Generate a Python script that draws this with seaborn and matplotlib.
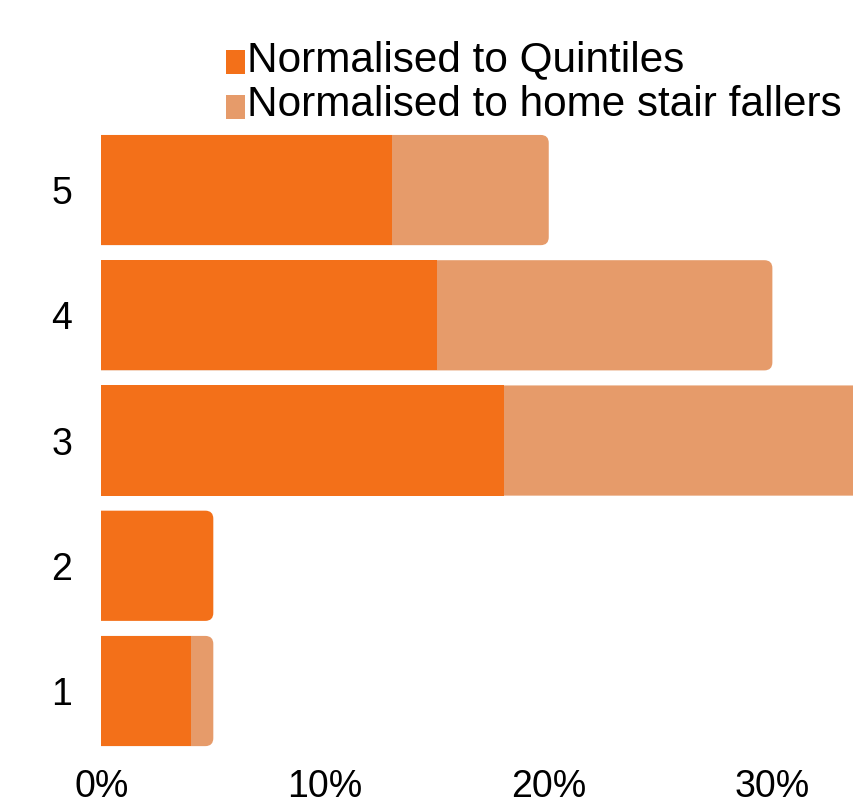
import matplotlib
matplotlib.use("Agg")
import matplotlib.pyplot as plt
from matplotlib.patches import FancyBboxPatch, Patch, Rectangle
from matplotlib.legend_handler import HandlerPatch
import seaborn as sns
import pandas as pd

# Share of stair falls per deprivation quintile (percent)
quintiles = ["5", "4", "3", "2", "1"]
share_quintiles = [13, 15, 18, 5, 4]
share_home_stair = [7, 15, 16, 0, 1]
tick_values = [0, 10, 20, 30]

label_quintiles = "Normalised to Quintiles"
label_home = "Normalised to home stair fallers"
color_quintiles = "#F37019"
color_home = "#E69B6A"

df = pd.DataFrame({
    "quintile": quintiles,
    "quintiles": share_quintiles,
    "home": share_home_stair,
})
df["total"] = df["quintiles"] + df["home"]

sns.set_theme(style="white")
plt.rcParams["font.family"] = ["Liberation Sans", "DejaVu Sans"]

fig = plt.figure(figsize=(8.54, 8.02), dpi=100)
ax = fig.add_axes([101.5 / 854, 0.0603, 1 - 101.5 / 854, 0.7808])

# stacked bars: total (light) behind, quintile share (dark) in front
sns.barplot(data=df, x="total", y="quintile", order=quintiles, orient="h",
            color=color_home, saturation=1, width=0.88, linewidth=0, ax=ax)
n = len(quintiles)
sns.barplot(data=df, x="quintiles", y="quintile", order=quintiles, orient="h",
            color=color_quintiles, saturation=1, width=0.88, linewidth=0, ax=ax)

ax.set_xlim(0, 33.65)
ax.set_ylim(n - 0.5, -0.5)
ax.set_xticks(tick_values)
ax.set_xticklabels([f"{v}%" for v in tick_values])
ax.set_xlabel("")
ax.set_ylabel("")
ax.tick_params(axis="both", length=0, labelsize=27, colors="black")
ax.tick_params(axis="y", pad=21)
ax.tick_params(axis="x", pad=11)
for s in ax.spines.values():
    s.set_visible(False)

# rounded right ends on the outermost segment of each bar
p0 = ax.transData.transform((0, 0))
p1 = ax.transData.transform((1, 1))
px_x = abs(p1[0] - p0[0])
px_y = abs(p1[1] - p0[1])
radius_px = 8
rx = radius_px / px_x
aspect = (radius_px / px_y) / rx

patches = list(ax.patches)
light, dark = patches[:n], patches[n:]
for p in dark:
    p.set_zorder(3)
for i in range(n):
    if share_home_stair[i] > 0:
        target, z = light[i], 2
    else:
        target, z = dark[i], 4
        light[i].remove()
    x0, y0 = target.get_x(), target.get_y()
    w, h = target.get_width(), target.get_height()
    rounded = FancyBboxPatch((x0 - 3 * rx, y0), w + 3 * rx, h,
                             boxstyle=f"round,pad=0,rounding_size={rx}",
                             mutation_aspect=aspect,
                             facecolor=target.get_facecolor(), edgecolor="none",
                             linewidth=0, zorder=z)
    target.remove()
    ax.add_patch(rounded)


def square_handle(legend, orig_handle, xdescent, ydescent, width, height, fontsize):
    # small square sitting a little below the centre of the text line
    return Rectangle((-xdescent, -ydescent - 0.14 * fontsize), width, height)


handles = [Patch(facecolor=color_quintiles, edgecolor="none", label=label_quintiles),
           Patch(facecolor=color_home, edgecolor="none", label=label_home)]
fig.legend(handles=handles, loc="upper left", bbox_to_anchor=(226 / 854, 1 - 40 / 802),
           frameon=False, fontsize=30.4, labelcolor="black",
           handlelength=0.45, handleheight=0.52,
           handler_map={Patch: HandlerPatch(patch_func=square_handle)},
           handletextpad=0.05, labelspacing=0.12, borderpad=0, borderaxespad=0)

fig.savefig("out.png", dpi=100, facecolor="white")
